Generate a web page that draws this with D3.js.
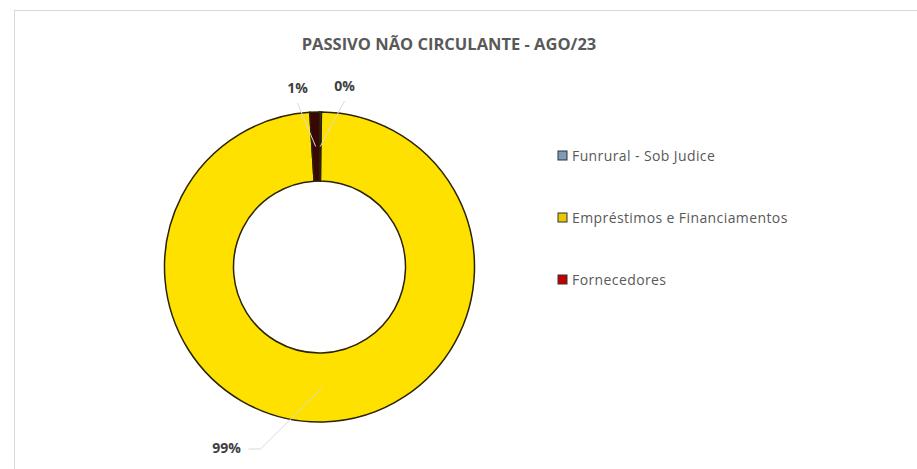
<!DOCTYPE html>
<html>
<head>
<meta charset="utf-8">
<script src="https://cdn.jsdelivr.net/npm/d3@7/dist/d3.min.js"></script>
<style>
  body { margin: 0; background: #fff; }
  text { font-family: "Open Sans", "Noto Sans", sans-serif; }
</style>
</head>
<body>
<svg id="chart" width="917" height="469"></svg>
<script>
  // data
  var categories = ['Funrural - Sob Judice', 'Empréstimos e Financiamentos', 'Fornecedores'];
  var shares = [0.002, 0.988, 0.010];
  var colors = ['#6a8aa6', '#ffe100', '#3a0606'];
  var swatchColors = ['#7e9cb6', '#e8c800', '#c00000'];
  var title = 'PASSIVO NÃO CIRCULANTE - AGO/23';

  var width = 917, height = 469
    , cx = 319.5, cy = 267
    , outerR = 155, innerR = 86
    ;

  var svg = d3.select('#chart');

  // chart frame
  svg.append('rect')
      .attr('x', 14.5).attr('y', 10.5)
      .attr('width', width + 10).attr('height', height + 10)
      .attr('fill', '#fff')
      .attr('stroke', '#d9d9d9');

  svg.append('text')
      .attr('x', 449).attr('y', 50)
      .attr('text-anchor', 'middle')
      .style('font-size', '16.5px')
      .style('font-weight', 'bold')
      .style('fill', '#595959')
      .text(title);

  var data = categories.map(function (c, i) { return {key: c, value: shares[i], color: colors[i]}; });

  var pie = d3.pie()
      .sort(null)
      .value(function (d) { return d.value; });

  var arc = d3.arc().innerRadius(innerR).outerRadius(outerR);
  var midArc = d3.arc().innerRadius((innerR + outerR) / 2).outerRadius((innerR + outerR) / 2);

  var arcs = pie(data);

  var g = svg.append('g').attr('transform', 'translate(' + cx + ',' + cy + ')');

  g.selectAll('path.slice')
      .data(arcs)
    .enter().append('path')
      .attr('class', 'slice')
      .attr('d', arc)
      .attr('fill', function (d) { return d.data.color; })
      .attr('stroke', '#2b2200')
      .attr('stroke-width', 1.5);

  // label positions (relative to centre)
  var labelPos = [[25, -176], [-93, 186], [-22, -174]];

  g.selectAll('path.leader')
      .data(arcs)
    .enter().append('path')
      .attr('class', 'leader')
      .attr('fill', 'none')
      .attr('stroke', '#d9d9d9')
      .attr('stroke-width', 1)
      .attr('d', function (d, i) {
        var p = midArc.centroid(d), l = labelPos[i];
        if (i === 1) {
          return 'M' + (l[0] + 22) + ',' + (l[1] - 4) + 'L' + (l[0] + 34) + ',' + (l[1] - 4) + 'L' + p[0] + ',' + p[1];
        }
        return 'M' + l[0] + ',' + (l[1] + 10) + 'L' + p[0] + ',' + p[1];
      });

  g.selectAll('text.pct')
      .data(arcs)
    .enter().append('text')
      .attr('class', 'pct')
      .attr('x', function (d, i) { return labelPos[i][0]; })
      .attr('y', function (d, i) { return labelPos[i][1]; })
      .attr('text-anchor', 'middle')
      .style('font-size', '14px')
      .style('font-weight', 'bold')
      .style('fill', '#404040')
      .text(function (d) { return d3.format('.0%')(d.data.value); });

  // legend
  var legend = svg.append('g').attr('transform', 'translate(558,156)');
  var item = legend.selectAll('g.item')
      .data(data)
    .enter().append('g')
      .attr('class', 'item')
      .attr('transform', function (d, i) { return 'translate(0,' + (i * 62) + ')'; });

  item.append('rect')
      .attr('x', 0).attr('y', -5)
      .attr('width', 9).attr('height', 9)
      .attr('fill', function (d, i) { return swatchColors[i]; })
      .attr('stroke', '#333')
      .attr('stroke-width', 1);

  item.append('text')
      .attr('x', 14).attr('y', 5)
      .style('font-size', '14px')
      .style('letter-spacing', '0.4px')
      .style('fill', '#595959')
      .text(function (d) { return d.key; });
</script>
</body>
</html>
